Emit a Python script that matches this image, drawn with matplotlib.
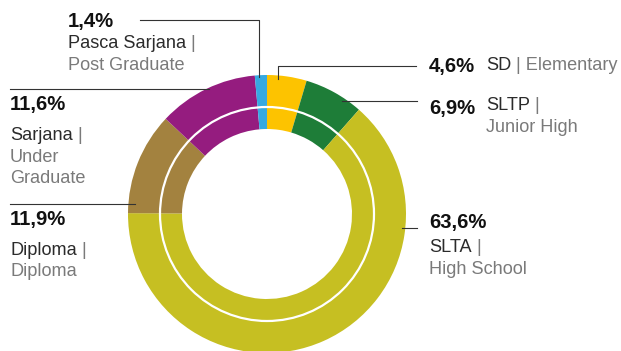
import matplotlib.pyplot as plt
from matplotlib.patches import Circle

plt.rcParams['font.family'] = ['Liberation Sans', 'DejaVu Sans']

# education level shares (%), clockwise from 12 o'clock
levels = ['SD', 'SLTP', 'SLTA', 'Diploma', 'Sarjana', 'Pasca Sarjana']
levels_en = [['Elementary'], ['Junior High'], ['High School'], ['Diploma'],
             ['Under', 'Graduate'], ['Post Graduate']]
shares = [4.6, 6.9, 63.6, 11.9, 11.6, 1.4]
colors = ['#FDC300', '#1E7D38', '#C6BF22', '#A3823F', '#951C7F', '#36A9E1']

W, H = 621, 351
fig = plt.figure(figsize=(W / 100, H / 100), dpi=100)
ax = fig.add_axes([0, 0, 1, 1])

cx, cy = 267, H - 214
ax.pie(shares, colors=colors, startangle=90, counterclock=False,
       center=(cx, cy), radius=139,
       wedgeprops=dict(width=54, linewidth=0))
ax.add_patch(Circle((cx, cy), 107, fill=False, ec='white', lw=1.6))
ax.set_xlim(0, W)
ax.set_ylim(0, H)
ax.set_aspect('equal')
ax.axis('off')

# label layout (pixels from top): pct pos, name pos, inline english?
layout = {
    'SD': ((429, 72), (486, 70), True),
    'SLTP': ((429, 114), (486, 110), False),
    'SLTA': ((429, 228), (429, 252), False),
    'Diploma': ((10, 225), (10, 255), False),
    'Sarjana': ((10, 110), (10, 140), False),
    'Pasca Sarjana': ((68, 27), (68, 48), False),
}
leaders = {
    'SD': [(278, 79), (278, 66), (416, 66)],
    'SLTP': [(342, 101), (417, 101)],
    'SLTA': [(402, 228), (417, 228)],
    'Diploma': [(10, 204), (135, 204)],
    'Sarjana': [(10, 89), (209, 89)],
    'Pasca Sarjana': [(140, 20), (259, 20), (259, 77)],
}

renderer = fig.canvas.get_renderer()
dark, grey = '#2b2b2b', '#7a7a7a'
fs, fsb = 13.1, 14.6
step = 21.5

for name, en, pct in zip(levels, levels_en, shares):
    (px, py), (nx, ny), inline = layout[name]
    ax.text(px, H - py, f'{pct:.1f}%'.replace('.', ','), fontsize=fsb,
            fontweight='bold', color='#111111', va='baseline')
    t = ax.text(nx, H - ny, name, fontsize=fs, color=dark, va='baseline')
    x1 = t.get_window_extent(renderer).x1
    rest = ' | ' + en[0] if inline else ' |'
    ax.text(x1, H - ny, rest, fontsize=fs, color=grey, va='baseline')
    if not inline:
        for i, line in enumerate(en):
            ax.text(nx, H - ny - step * (i + 1), line, fontsize=fs,
                    color=grey, va='baseline')
    xs, ys = zip(*leaders[name])
    ax.plot(xs, [H - y for y in ys], color='#333333', lw=0.8)

fig.savefig('out.png', dpi=100)
